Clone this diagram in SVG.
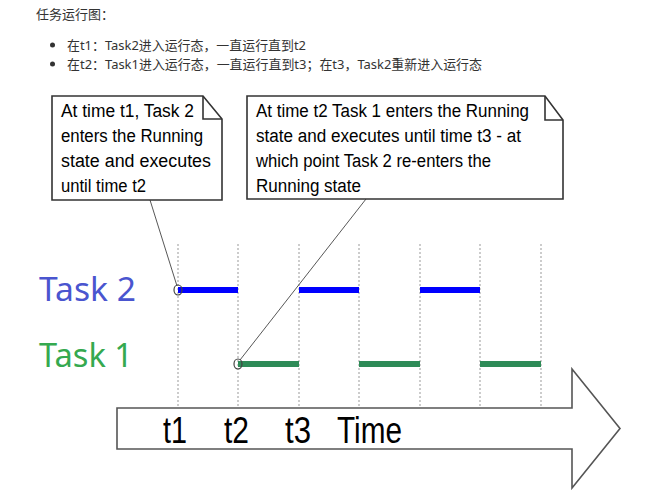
<svg xmlns="http://www.w3.org/2000/svg" width="655" height="500" viewBox="0 0 655 500">
<style>
.hdr{font-family:"Noto Sans","Noto Sans CJK SC",sans-serif;font-size:13px;fill:#333}
.note{fill:#fff;stroke:#333;stroke-width:1.6}
.fold{fill:none;stroke:#333;stroke-width:1.6}
.nt{font-family:"Liberation Sans",Arial,sans-serif;font-size:18px;fill:#000}
.grid{stroke:#999;stroke-width:1;stroke-dasharray:2 2}
.lead{stroke:#444;stroke-width:0.9;fill:none}
.t2{stroke:#0000ff;stroke-width:6}
.t1{stroke:#2e8b57;stroke-width:6}
.mark{fill:none;stroke:#444;stroke-width:1.2}
.lbl{font-family:"Noto Sans","Open Sans",sans-serif;font-size:33px}
.tm{font-family:"Liberation Sans",Arial,sans-serif;font-size:37px;fill:#000}
</style>
<rect width="655" height="500" fill="#fff"/>
<g id="header">
<text class="hdr" x="36" y="19">任务运行图：</text>
<circle cx="52.5" cy="45" r="2.5" fill="#333"/>
<text class="hdr" x="67" y="50" textLength="239" lengthAdjust="spacingAndGlyphs">在t1：Task2进入运行态，一直运行直到t2</text>
<circle cx="52.5" cy="64" r="2.5" fill="#333"/>
<text class="hdr" x="67" y="69" textLength="415" lengthAdjust="spacingAndGlyphs">在t2：Task1进入运行态，一直运行直到t3；在t3，Task2重新进入运行态</text>
</g>
<g id="grid">
<line class="grid" x1="178" y1="244" x2="178" y2="408"/>
<line class="grid" x1="238" y1="244" x2="238" y2="408"/>
<line class="grid" x1="299" y1="244" x2="299" y2="408"/>
<line class="grid" x1="359" y1="244" x2="359" y2="408"/>
<line class="grid" x1="420" y1="244" x2="420" y2="408"/>
<line class="grid" x1="480" y1="244" x2="480" y2="408"/>
<line class="grid" x1="541" y1="244" x2="541" y2="408"/>
</g>
<g id="connectors">
<line class="lead" x1="150" y1="200" x2="177" y2="286"/>
<line class="lead" x1="366" y1="199" x2="240" y2="360"/>
</g>
<g id="note1">
<path class="note" d="M52 96 H203 L222 119 V200 H52 Z"/>
<path class="fold" d="M203 96 V119 H222"/>
<text class="nt" x="61" y="117" textLength="133" lengthAdjust="spacingAndGlyphs">At time t1, Task 2</text>
<text class="nt" x="61" y="142" textLength="142" lengthAdjust="spacingAndGlyphs">enters the Running</text>
<text class="nt" x="61" y="167" textLength="150" lengthAdjust="spacingAndGlyphs">state and executes</text>
<text class="nt" x="61" y="192" textLength="85" lengthAdjust="spacingAndGlyphs">until time t2</text>
</g>
<g id="note2">
<path class="note" d="M247 96 H545 L563 120 V199 H247 Z"/>
<path class="fold" d="M545 96 V120 H563"/>
<text class="nt" x="256" y="117" textLength="273" lengthAdjust="spacingAndGlyphs">At time t2 Task 1 enters the Running</text>
<text class="nt" x="256" y="142" textLength="265" lengthAdjust="spacingAndGlyphs">state and executes until time t3 - at</text>
<text class="nt" x="256" y="167" textLength="235" lengthAdjust="spacingAndGlyphs">which point Task 2 re-enters the</text>
<text class="nt" x="256" y="192" textLength="105" lengthAdjust="spacingAndGlyphs">Running state</text>
</g>
<g id="task2">
<text class="lbl" x="39" y="301" fill="#4a55cf" textLength="97" lengthAdjust="spacingAndGlyphs">Task 2</text>
<line class="t2" x1="178" y1="290" x2="238" y2="290"/>
<line class="t2" x1="299" y1="290" x2="359" y2="290"/>
<line class="t2" x1="420" y1="290" x2="480" y2="290"/>
<ellipse class="mark" cx="178" cy="290" rx="4" ry="5"/>
</g>
<g id="task1">
<text class="lbl" x="39" y="367" fill="#35a94f" textLength="94" lengthAdjust="spacingAndGlyphs">Task 1</text>
<line class="t1" x1="238" y1="364" x2="299" y2="364"/>
<line class="t1" x1="359" y1="364" x2="420" y2="364"/>
<line class="t1" x1="480" y1="364" x2="541" y2="364"/>
<ellipse class="mark" cx="238" cy="364" rx="4" ry="5"/>
</g>
<g id="timeArrow">
<path d="M117 408 H572 V369 L620 428.5 L572 488 V449 H117 Z" fill="#fff" stroke="#555" stroke-width="1.6"/>
<text class="tm" x="163" y="443" textLength="24" lengthAdjust="spacingAndGlyphs">t1</text>
<text class="tm" x="224" y="443" textLength="25" lengthAdjust="spacingAndGlyphs">t2</text>
<text class="tm" x="285" y="443" textLength="26" lengthAdjust="spacingAndGlyphs">t3</text>
<text class="tm" x="337" y="443" textLength="65" lengthAdjust="spacingAndGlyphs">Time</text>
</g>
</svg>
